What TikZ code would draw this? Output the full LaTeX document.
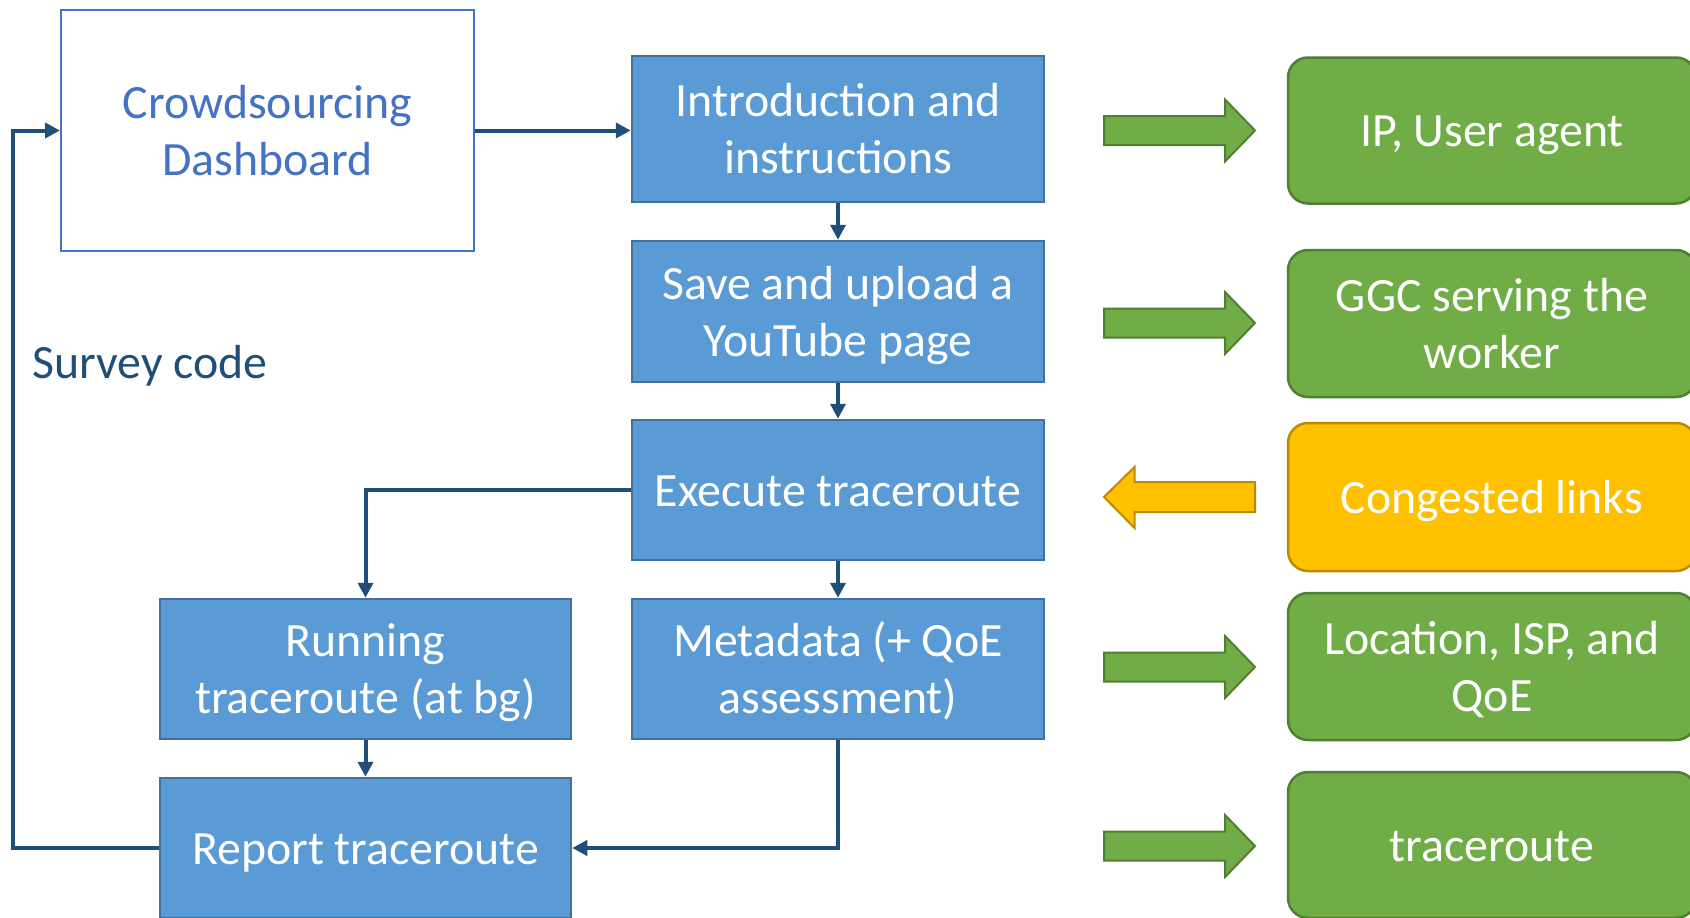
\documentclass[tikz,border=0pt]{standalone}
\usepackage{fontspec}
\setmainfont{Carlito}
\usetikzlibrary{arrows.meta}
\definecolor{boxblue}{HTML}{5B9BD5}
\definecolor{boxblueline}{HTML}{41719C}
\definecolor{dashline}{HTML}{4472C4}
\definecolor{conn}{HTML}{1F4E79}
\definecolor{gfill}{HTML}{70AD47}
\definecolor{gline}{HTML}{507E32}
\definecolor{yfill}{HTML}{FFC000}
\definecolor{yline}{HTML}{BC8C00}
\newcommand\ps{\vrule width 0pt height 44.5pt depth 12.5pt\relax}
\tikzset{
  txt/.style={font=\fontsize{47.8pt}{57pt}\selectfont, align=center, inner sep=0pt},
  stepbox/.style={txt, rectangle, fill=boxblue, draw=boxblueline, line width=2.5pt, text=white, minimum width=412pt, minimum height=140pt},
  dashbox/.style={txt, rectangle, fill=white, draw=dashline, line width=2pt, text=dashline, minimum width=413pt, minimum height=241pt},
  infobox/.style={txt, rectangle, rounded corners=20pt, draw=gline, fill=gfill, line width=2.5pt, text=white, minimum width=408pt, minimum height=146pt},
  warnbox/.style={infobox, draw=yline, fill=yfill},
  conn/.style={draw=conn, line width=4pt, -{Triangle[length=15pt,width=15pt]}},
  garrow/.style={fill=gfill, draw=gline, line width=2pt, line join=miter},
  yarrow/.style={fill=yfill, draw=yline, line width=2pt, line join=miter},
}
\begin{document}
\begin{tikzpicture}[x=1pt, y=-1pt]
\useasboundingbox (0,0) rectangle (1690,918);
\clip (0,0) rectangle (1690,918);

% left/centre flow
\node[dashbox] (dash) at (267.5,130.5) {\ps Crowdsourcing\\ \ps Dashboard};
\node[stepbox, minimum height=146pt] (intro) at (838,129) {\ps Introduction and\\ \ps instructions};
\node[stepbox, minimum height=141pt] (save) at (838,311.5) {\ps Save and upload a\\ \ps YouTube page};
\node[stepbox] (exec) at (838,490) {\ps Execute traceroute};
\node[stepbox] (meta) at (838,669) {\ps Metadata (+ QoE\\ \ps assessment)};
\node[stepbox, minimum width=411pt] (run) at (365.5,669) {\ps Running\\ \ps traceroute (at bg)};
\node[stepbox, minimum width=411pt] (report) at (365.5,848) {\ps Report traceroute};

\node[txt, text=conn, anchor=west] (survey) at (32,362) {\ps Survey code};

% right info boxes
\node[infobox] (ip) at (1492,130.5) {\ps IP, User agent};
\node[infobox, minimum height=147pt] (ggc) at (1492,323.5) {\ps GGC serving the\\ \ps worker};
\node[warnbox, minimum height=148pt] (cong) at (1492,497) {\ps Congested links};
\node[infobox, minimum height=147pt] (loc) at (1492,666.5) {\ps Location, ISP, and\\ \ps QoE};
\node[infobox, minimum height=146pt] (tr) at (1492,845) {\ps traceroute};

% connectors
\coordinate (loop) at (13,848);
\draw[conn] (dash.east) -- (intro.west |- dash.east);
\draw[conn] (intro.south) -- (save.north);
\draw[conn] (save.south) -- (exec.north);
\draw[conn] (exec.south) -- (meta.north);
\draw[conn] (exec.west) -| (run.north);
\draw[conn] (run.south) -- (report.north);
\draw[conn] (meta.south) |- (report.east);
\draw[conn] (report.west) -- (loop) |- (dash.west);

% block arrows
\foreach \cy in {130.5,323,667,846}{
  \draw[garrow] (1104,\cy-14.5) -- (1225,\cy-14.5) -- (1225,\cy-31) -- (1255,\cy) -- (1225,\cy+31) -- (1225,\cy+14.5) -- (1104,\cy+14.5) -- cycle;
}
\draw[yarrow] (1255,482) -- (1134.5,482) -- (1134.5,467) -- (1104,497) -- (1134.5,528) -- (1134.5,512) -- (1255,512) -- cycle;
\end{tikzpicture}
\end{document}
